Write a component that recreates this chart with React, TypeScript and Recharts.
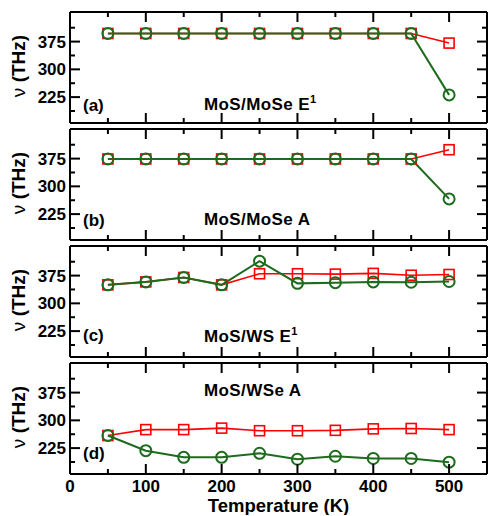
import React from 'react';
import { LineChart, Line, XAxis, YAxis } from 'recharts';

const temps = [50, 100, 150, 200, 250, 300, 350, 400, 450, 500];

const aRed = [397, 397, 397, 397, 397, 397, 397, 397, 397, 371];
const aGreen = [397, 397, 397, 397, 397, 397, 397, 397, 397, 231];
const bRed = [374, 374, 374, 374, 374, 374, 374, 374, 374, 399];
const bGreen = [374, 374, 374, 374, 374, 374, 374, 374, 374, 266];
const cRed = [350, 358, 370, 350, 380, 380, 379, 381, 376, 378];
const cGreen = [350, 358, 370, 350, 414, 354, 356, 358, 357, 359];
const dRed = [259, 275, 275, 279, 272, 272, 273, 277, 278, 275];
const dGreen = [259, 218, 200, 200, 211, 195, 203, 197, 197, 187];

const xTicks = [0, 50, 100, 150, 200, 250, 300, 350, 400, 450, 500];
const yTicks = [187.5, 225, 262.5, 300, 337.5, 375, 412.5];
const yLabels = [225, 300, 375];

const RED = '#ff0000';
const GREEN = '#1d6b1d';
const FONT = '"Liberation Sans", Arial, Helvetica, sans-serif';

const XTick = (side: 'top' | 'bottom', withLabels: boolean) => (p: any) => {
  const v = p.payload.value;
  const len = v % 100 === 0 ? 10 : 5;
  const dir = side === 'bottom' ? -1 : 1;
  return (
    <g>
      {v > 0 && <line x1={p.x} x2={p.x} y1={p.y} y2={p.y + dir * len} stroke="#000" strokeWidth={2} />}
      {withLabels && v % 100 === 0 && (
        <text x={p.x} y={p.y + 18} textAnchor="middle" fontFamily={FONT} fontWeight={700} fontSize={17} fill="#000">
          {v}
        </text>
      )}
    </g>
  );
};

const YTick = (side: 'left' | 'right') => (p: any) => {
  const v = p.payload.value;
  const major = yLabels.includes(v);
  const len = major ? 10 : 5;
  const dir = side === 'left' ? 1 : -1;
  return (
    <g>
      <line x1={p.x} x2={p.x + dir * len} y1={p.y} y2={p.y} stroke="#000" strokeWidth={2} />
      {side === 'left' && major && (
        <text x={p.x - 4} y={p.y + 6} textAnchor="end" fontFamily={FONT} fontWeight={700} fontSize={17} fill="#000">
          {v}
        </text>
      )}
    </g>
  );
};

const Square = (p: any) => (
  <rect key={p.index} x={p.cx - 5} y={p.cy - 5} width={10} height={10} fill="none" stroke={RED} strokeWidth={1.6} />
);

interface PanelProps {
  red: number[];
  green: number[];
  top: number;
  tag: string;
  mode: string;
  sup?: boolean;
  modeY: number;
  tagY: number;
  last?: boolean;
}

const Panel: React.FC<PanelProps> = ({ red, green, top, tag, mode, sup, modeY, tagY, last }) => {
  const data = temps.map((t, i) => ({ t, red: red[i], green: green[i] }));
  const bottomH = last ? 41 : 1;
  return (
    <>
      <div style={{ position: 'absolute', left: 0, top: top - 1 }}>
        <LineChart width={488} height={112 + bottomH} data={data} margin={{ top: 0, right: 0, bottom: 0, left: 0 }}>
          <XAxis
            xAxisId="b"
            dataKey="t"
            type="number"
            domain={[0, 550]}
            ticks={xTicks}
            interval={0}
            height={bottomH}
            tickSize={0}
            tickMargin={0}
            tickLine={false}
            axisLine={{ stroke: '#000', strokeWidth: 2 }}
            tick={XTick('bottom', !!last)}
            label={
              last
                ? { value: 'Temperature (K)', position: 'insideBottom', offset: 3, fontFamily: FONT, fontWeight: 700, fontSize: 18.5, fill: '#000' }
                : undefined
            }
          />
          <XAxis
            xAxisId="t"
            orientation="top"
            dataKey="t"
            type="number"
            domain={[0, 550]}
            ticks={xTicks}
            interval={0}
            height={1}
            tickSize={0}
            tickMargin={0}
            tickLine={false}
            axisLine={{ stroke: '#000', strokeWidth: 2 }}
            tick={XTick('top', false)}
          />
          <YAxis
            yAxisId="l"
            type="number"
            domain={[155, 455]}
            allowDataOverflow
            ticks={yTicks}
            interval={0}
            width={70}
            tickSize={0}
            tickMargin={0}
            tickLine={false}
            axisLine={{ stroke: '#000', strokeWidth: 2 }}
            tick={YTick('left')}
          />
          <YAxis
            yAxisId="r"
            orientation="right"
            type="number"
            domain={[155, 455]}
            allowDataOverflow
            ticks={yTicks}
            interval={0}
            width={1}
            tickSize={0}
            tickMargin={0}
            tickLine={false}
            axisLine={{ stroke: '#000', strokeWidth: 2 }}
            tick={YTick('right')}
          />
          <Line
            xAxisId="b"
            yAxisId="l"
            dataKey="red"
            stroke={RED}
            strokeWidth={1.6}
            dot={Square}
            isAnimationActive={false}
          />
          <Line
            xAxisId="b"
            yAxisId="l"
            dataKey="green"
            stroke={GREEN}
            strokeWidth={2}
            dot={{ r: 5.5, stroke: GREEN, strokeWidth: 2, fill: 'none' }}
            isAnimationActive={false}
          />
        </LineChart>
      </div>
      <div
        style={{
          position: 'absolute',
          left: 18,
          top: top + 54,
          transform: 'translate(-50%, -50%) rotate(-90deg)',
          whiteSpace: 'nowrap',
          fontFamily: FONT,
          fontWeight: 700,
          fontSize: 19,
          lineHeight: '19px',
        }}
      >
        <span style={{ fontWeight: 400 }}>ν</span> (THz)
      </div>
      <div
        style={{
          position: 'absolute',
          left: 83,
          top: tagY,
          transform: 'translateY(-50%)',
          fontFamily: FONT,
          fontWeight: 700,
          fontSize: 17,
          lineHeight: '17px',
        }}
      >
        {tag}
      </div>
      <div
        style={{
          position: 'absolute',
          left: 204,
          top: modeY,
          transform: 'translateY(-50%)',
          whiteSpace: 'nowrap',
          fontFamily: FONT,
          fontWeight: 700,
          fontSize: 17,
          lineHeight: '17px',
          letterSpacing: 0.4,
        }}
      >
        {mode}
        {sup && <sup style={{ fontSize: 11, verticalAlign: 7 }}>1</sup>}
      </div>
    </>
  );
};

export default function App() {
  return (
    <div style={{ position: 'absolute', left: 0, top: 0, width: 488, height: 516, background: '#fff' }}>
      <Panel red={aRed} green={aGreen} top={12} tag="(a)" mode="MoS/MoSe E" sup modeY={102} tagY={105} />
      <Panel red={bRed} green={bGreen} top={129} tag="(b)" mode="MoS/MoSe A" modeY={219} tagY={220} />
      <Panel red={cRed} green={cGreen} top={246} tag="(c)" mode="MoS/WS E" sup modeY={334} tagY={335} />
      <Panel red={dRed} green={dGreen} top={363} tag="(d)" mode="MoS/WSe A" modeY={390} tagY={453} last />
    </div>
  );
}
